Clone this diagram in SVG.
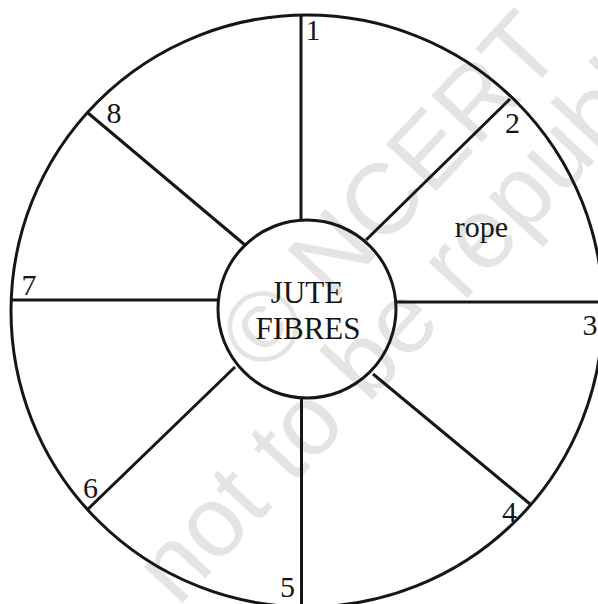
<svg xmlns="http://www.w3.org/2000/svg" width="598" height="604" viewBox="0 0 598 604">
  <style>
    .wm { font-family: "Liberation Sans", Arial, sans-serif; font-size: 100px; fill: #e4e4e4; }
    .ln { stroke: #161616; stroke-width: 3; fill: none; stroke-linecap: butt; }
    .lbl { font-family: "Liberation Serif", "Times New Roman", serif; font-size: 30px; fill: #161616; text-anchor: middle; }
    .ctr { font-family: "Liberation Serif", "Times New Roman", serif; font-size: 31px; fill: #161616; text-anchor: middle; }
  </style>
  <rect width="598" height="604" fill="#ffffff"/>
  <g id="watermark">
    <text class="wm" transform="translate(263 377) rotate(-47)">© NCERT</text>
    <text class="wm" transform="translate(178 608) rotate(-47)">not to be republished</text>
  </g>
  <g id="wheel">
    <circle class="ln" cx="307" cy="311" r="296"/>
  </g>
  <g id="connectors">
    <line class="ln" x1="301" y1="15" x2="301" y2="220"/>
    <line class="ln" x1="366" y1="240" x2="510" y2="99"/>
    <line class="ln" x1="396" y1="302" x2="598" y2="302"/>
    <line class="ln" x1="373" y1="374" x2="530" y2="504"/>
    <line class="ln" x1="301.5" y1="398" x2="301.5" y2="604"/>
    <line class="ln" x1="235" y1="367" x2="88" y2="509"/>
    <line class="ln" x1="11" y1="300" x2="218" y2="300"/>
    <line class="ln" x1="245" y1="245" x2="88" y2="113"/>
  </g>
  <g id="center">
    <circle class="ln" cx="307" cy="309" r="89" fill="none"/>
    <text class="ctr" x="307" y="303">JUTE</text>
    <text class="ctr" x="308" y="339">FIBRES</text>
  </g>
  <g id="labels">
    <text id="n1" class="lbl" x="313" y="40">1</text>
    <text id="n2" class="lbl" x="512.5" y="133">2</text>
    <text id="n3" class="lbl" x="590" y="335">3</text>
    <text id="n4" class="lbl" x="509.5" y="522">4</text>
    <text id="n5" class="lbl" x="287.5" y="597">5</text>
    <text id="n6" class="lbl" x="90.5" y="498">6</text>
    <text id="n7" class="lbl" x="29" y="295">7</text>
    <text id="n8" class="lbl" x="114" y="123">8</text>
    <text id="rope" class="lbl" x="481.5" y="237">rope</text>
  </g>
</svg>
